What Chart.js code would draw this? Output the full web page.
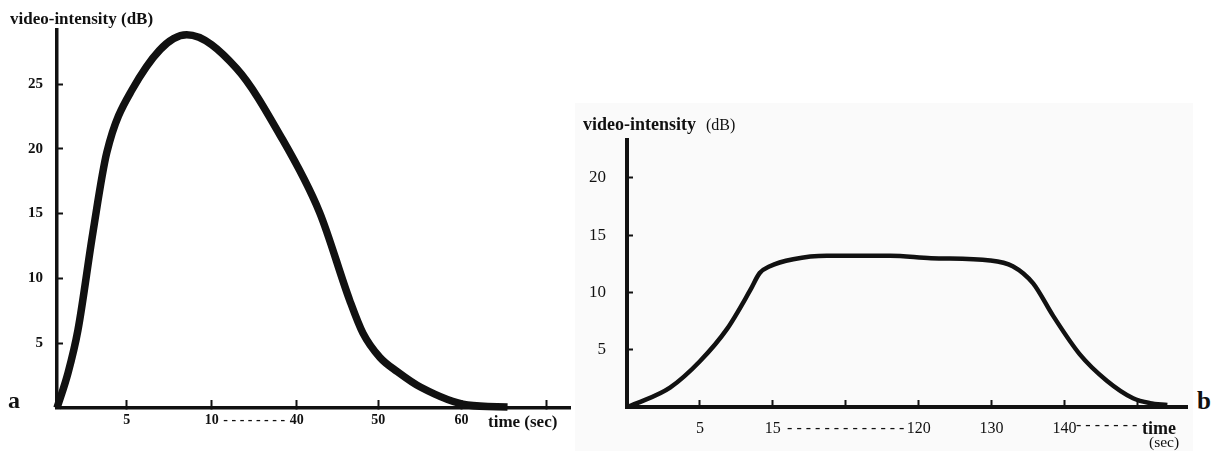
<!DOCTYPE html>
<html>
<head>
<meta charset="utf-8">
<script src="https://cdn.jsdelivr.net/npm/chart.js@4.4.1/dist/chart.umd.min.js"></script>
<style>
  body { margin: 0; background: #fff; }
  #wrap { position: relative; width: 1220px; height: 451px; overflow: hidden; }
  #chartA { position: absolute; left: 0; top: 0; }
  #chartB { position: absolute; left: 575px; top: 103px; background: #fafafa; }
  #labelB { position: absolute; left: 1197px; top: 387px; line-height: 1;
            font: bold 25px "Liberation Serif", serif; color: #111; }
</style>
</head>
<body>
<div id="wrap">
  <canvas id="chartA" width="575" height="451"></canvas>
  <canvas id="chartB" width="618" height="348"></canvas>
  <div id="labelB">b</div>
</div>
<script>
// panel a - bolus curve
const aTime = [0, 0.79, 1.5, 2.57, 3.57, 5.29, 8.53, 18.8, 34.0, 42.8, 46.5, 48.1, 50.2, 52.3, 55.1, 60.7, 65.4];
const aIntensity = [0, 2.7, 6.0, 13.5, 19.7, 24.5, 28.8, 26.2, 21.1, 15.1, 8.3, 5.8, 3.9, 2.8, 1.6, 0.23, 0.08];
const aTickTimes = [0, 5, 10, 40, 50, 60, 70];
const aTickLabels = ['', '5', '10', '40', '50', '60', ''];
const aYTicks = [5, 10, 15, 20, 25];

// panel b - plateau curve
const bTime = [0, 0.69, 2.95, 5.0, 8.7, 11.9, 13.2, 14.6, 29.7, 53.9, 99.5, 121.7, 129.8, 132.9, 135.7, 138.4, 142.1, 145.8, 149.4, 151.7, 154.1];
const bIntensity = [0, 0.34, 1.7, 4.0, 6.8, 10.2, 11.7, 12.3, 12.9, 13.2, 13.2, 13.0, 12.8, 12.3, 10.8, 8.0, 4.6, 2.3, 0.77, 0.34, 0.17];
const bTickTimes = [0, 5, 15, 120, 130, 140, 150];
const bTickLabels = ['', '5', '15', '120', '130', '140', ''];
const bYTicks = [5, 10, 15, 20];

// where each tick sits on the broken time axis, in tick-spacing units
const aTickSlots = [0, 0.82, 1.82, 2.82, 3.78, 4.76, 5.76];
const bTickSlots = [0, 1, 2, 4, 5, 6, 7];

const INK = '#111';
const SERIF = '"Liberation Serif", "DejaVu Serif", serif';

// piecewise linear map from seconds to position on the broken axis
function toSlot(t, times, slots) {
    let i = 1;
    while (i < times.length - 1 && t > times[i]) i++;
    const t0 = times[i - 1], t1 = times[i];
    return slots[i - 1] + (t - t0) / (t1 - t0) * (slots[i] - slots[i - 1]);
}

function buildXTicks(labels, slots, gap) {
    const ticks = [];
    for (let i = 1; i < slots.length; i++) ticks.push({ value: slots[i], text: labels[i] });
    ticks.push({ value: gap.slot, text: gap.text, hideMark: gap.hideMark });
    return ticks.sort((p, q) => p.value - q.value);
}

function textPlugin(draw) {
    return {
        id: 'axisText',
        afterDraw(chart) {
            const c = chart.ctx;
            c.save();
            c.fillStyle = INK;
            c.textBaseline = 'alphabetic';
            draw(c, chart.chartArea);
            c.restore();
        }
    };
}

function makeChart(id, cfg) {
    const xt = cfg.xTicks;
    const ctx = document.getElementById(id).getContext('2d');
    return new Chart(ctx, {
        type: 'line',
        data: {
            datasets: [{
                data: cfg.time.map((t, i) => ({ x: toSlot(t, cfg.tickTimes, cfg.tickSlots), y: cfg.values[i] })),
                borderColor: INK,
                borderWidth: cfg.lineWidth,
                cubicInterpolationMode: 'monotone',
                pointRadius: 0,
                fill: false,
                clip: false
            }]
        },
        options: {
            responsive: false,
            animation: false,
            layout: { padding: { top: 30, right: cfg.padRight, left: 0, bottom: 0 } },
            plugins: { legend: { display: false }, tooltip: { enabled: false } },
            scales: {
                x: {
                    type: 'linear',
                    min: 0,
                    max: cfg.xMax,
                    afterBuildTicks: s => { s.ticks = xt.map(t => ({ value: t.value, hideMark: t.hideMark })); },
                    afterFit: s => { s.height = cfg.xHeight; },
                    border: { display: true, color: INK, width: cfg.axisWidth },
                    grid: {
                        drawOnChartArea: false,
                        drawTicks: true,
                        tickLength: -cfg.xTickLen,
                        tickWidth: 2,
                        color: INK,
                        tickColor: c => (c.tick && c.tick.hideMark) ? 'rgba(0,0,0,0)' : INK
                    },
                    ticks: {
                        autoSkip: false,
                        maxRotation: 0,
                        color: INK,
                        padding: cfg.xPad,
                        font: cfg.xFont,
                        callback: (v, i) => xt[i] ? xt[i].text : ''
                    }
                },
                y: {
                    min: 0,
                    max: cfg.yMax,
                    afterBuildTicks: s => { s.ticks = cfg.yTicks.map(v => ({ value: v })); },
                    afterFit: s => { s.width = cfg.yWidth; },
                    border: { display: true, color: INK, width: cfg.axisWidth },
                    grid: {
                        drawOnChartArea: false,
                        drawTicks: true,
                        tickLength: -6,
                        tickWidth: 2,
                        color: INK
                    },
                    ticks: {
                        color: INK,
                        padding: cfg.yPad,
                        font: cfg.yFont,
                        callback: v => String(v)
                    }
                }
            }
        },
        plugins: [textPlugin(cfg.texts)]
    });
}

makeChart('chartA', {
    time: aTime, values: aIntensity,
    tickTimes: aTickTimes, tickSlots: aTickSlots,
    xTicks: buildXTicks(aTickLabels, aTickSlots,
        { slot: (aTickSlots[2] + aTickSlots[3]) / 2, text: '- - - - - - - -', hideMark: true }),
    yTicks: aYTicks,
    xMax: 6.035, yMax: 29.17,
    padRight: 5, xHeight: 43, yWidth: 57,
    lineWidth: 7.5, axisWidth: 3.5, xTickLen: 8,
    xPad: 12, yPad: 20,
    xFont: { family: SERIF, size: 14, weight: 'bold' },
    yFont: { family: SERIF, size: 15, weight: 'bold' },
    texts: (c, a) => {
        c.font = 'bold 17px ' + SERIF;
        c.fillText('video-intensity (dB)', 10, a.top - 6);
        c.fillText('time (sec)', a.right - 82, a.bottom + 19);
        c.font = 'bold 24px ' + SERIF;
        c.fillText('a', 8, a.bottom);
    }
});

makeChart('chartB', {
    time: bTime, values: bIntensity,
    tickTimes: bTickTimes, tickSlots: bTickSlots,
    xTicks: buildXTicks(bTickLabels, bTickSlots,
        { slot: 3, text: '- - - - - - - - - - - - -', hideMark: false }),
    yTicks: bYTicks,
    xMax: 7.68, yMax: 23.3,
    padRight: 6, xHeight: 44, yWidth: 52,
    lineWidth: 4.5, axisWidth: 4, xTickLen: 7,
    xPad: 19, yPad: 27,
    xFont: { family: SERIF, size: 16 },
    yFont: { family: SERIF, size: 17 },
    texts: (c, a) => {
        c.font = 'bold 18px ' + SERIF;
        c.fillText('video-intensity', 8, a.top - 10);
        c.font = '16px ' + SERIF;
        c.fillText('(dB)', 131, a.top - 10);
        c.fillText('- - - - - - -', a.right - 111, a.bottom + 23);
        c.font = 'bold 18px ' + SERIF;
        c.fillText('time', a.right - 45, a.bottom + 27);
        c.font = '15.5px ' + SERIF;
        c.fillText('(sec)', a.right - 38, a.bottom + 40);
    }
});
</script>
</body>
</html>
